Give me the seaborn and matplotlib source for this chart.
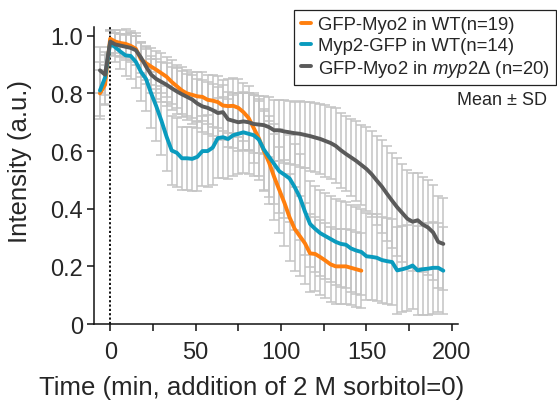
import numpy as np
import pandas as pd
import matplotlib
matplotlib.use("Agg")
import matplotlib.pyplot as plt
import seaborn as sns
from matplotlib.lines import Line2D

# ---------------- data ----------------
time_all = list(range(-6, 198, 3))          # -6 ... 195 min
time_orange = list(range(-6, 150, 3))       # -6 ... 147 min

labels = ["GFP-Myo2 in WT(n=19)", "Myp2-GFP in WT(n=14)",
          "GFP-Myo2 in $\\it{myp2}$\u0394 (n=20)"]

orange_mean = [0.80, 0.83, 0.99, 0.98, 0.975, 0.972, 0.965, 0.955, 0.918, 0.905,
               0.893, 0.882, 0.87, 0.858, 0.84, 0.825, 0.81, 0.80, 0.795, 0.79,
               0.788, 0.778, 0.775, 0.77, 0.758, 0.756, 0.757, 0.75, 0.735, 0.715,
               0.68, 0.645, 0.60, 0.56, 0.51, 0.465, 0.42, 0.37, 0.33, 0.305,
               0.28, 0.245, 0.243, 0.232, 0.22, 0.207, 0.20, 0.20, 0.20, 0.195,
               0.19, 0.185]
orange_sd = [0.08, 0.07, 0.03, 0.04, 0.045, 0.05, 0.05, 0.055, 0.06, 0.06,
             0.065, 0.065, 0.07, 0.07, 0.075, 0.075, 0.08, 0.08, 0.08, 0.085,
             0.085, 0.085, 0.09, 0.09, 0.09, 0.095, 0.095, 0.10, 0.10, 0.11,
             0.12, 0.13, 0.14, 0.145, 0.15, 0.15, 0.15, 0.15, 0.145, 0.14,
             0.14, 0.135, 0.13, 0.13, 0.13, 0.13, 0.13, 0.13, 0.13, 0.13,
             0.13, 0.13]

blue_mean = [0.81, 0.855, 0.975, 0.96, 0.945, 0.932, 0.93, 0.91, 0.875, 0.85,
             0.80, 0.755, 0.705, 0.65, 0.602, 0.594, 0.575, 0.575, 0.573, 0.58,
             0.60, 0.60, 0.612, 0.645, 0.648, 0.642, 0.655, 0.66, 0.665, 0.66,
             0.655, 0.64, 0.605, 0.58, 0.555, 0.53, 0.518, 0.505, 0.475, 0.44,
             0.39, 0.347, 0.33, 0.315, 0.305, 0.295, 0.285, 0.278, 0.275, 0.262,
             0.255, 0.25, 0.235, 0.233, 0.23, 0.222, 0.218, 0.215, 0.186, 0.19,
             0.195, 0.203, 0.186, 0.19, 0.192, 0.195, 0.195, 0.185]
blue_sd = [0.10, 0.09, 0.04, 0.05, 0.06, 0.07, 0.08, 0.09, 0.10, 0.11,
           0.12, 0.12, 0.12, 0.12, 0.12, 0.12, 0.11, 0.11, 0.11, 0.12,
           0.12, 0.125, 0.13, 0.14, 0.14, 0.14, 0.14, 0.14, 0.14, 0.14,
           0.14, 0.14, 0.14, 0.14, 0.14, 0.145, 0.15, 0.15, 0.15, 0.15,
           0.15, 0.15, 0.15, 0.15, 0.15, 0.15, 0.15, 0.15, 0.15, 0.15,
           0.15, 0.15, 0.15, 0.15, 0.15, 0.15, 0.15, 0.15, 0.15, 0.15,
           0.15, 0.15, 0.155, 0.16, 0.16, 0.16, 0.155, 0.15]

gray_mean = [0.88, 0.865, 0.98, 0.97, 0.966, 0.962, 0.958, 0.95, 0.925, 0.893,
             0.865, 0.85, 0.84, 0.83, 0.818, 0.807, 0.797, 0.788, 0.779, 0.765,
             0.755, 0.75, 0.742, 0.732, 0.735, 0.71, 0.705, 0.70, 0.703, 0.70,
             0.694, 0.692, 0.69, 0.683, 0.672, 0.672, 0.668, 0.665, 0.662, 0.66,
             0.656, 0.652, 0.647, 0.642, 0.635, 0.628, 0.618, 0.603, 0.59, 0.578,
             0.566, 0.552, 0.538, 0.52, 0.498, 0.477, 0.452, 0.428, 0.405, 0.385,
             0.365, 0.355, 0.36, 0.345, 0.335, 0.318, 0.285, 0.278]
gray_sd = [0.08, 0.07, 0.04, 0.04, 0.04, 0.045, 0.05, 0.05, 0.055, 0.06,
           0.065, 0.07, 0.07, 0.075, 0.075, 0.08, 0.08, 0.08, 0.085, 0.085,
           0.09, 0.09, 0.09, 0.09, 0.095, 0.095, 0.095, 0.10, 0.10, 0.10,
           0.10, 0.10, 0.10, 0.105, 0.105, 0.105, 0.11, 0.11, 0.11, 0.115,
           0.115, 0.12, 0.12, 0.12, 0.125, 0.125, 0.13, 0.13, 0.13, 0.135,
           0.14, 0.14, 0.145, 0.15, 0.155, 0.16, 0.165, 0.165, 0.17, 0.17,
           0.17, 0.17, 0.165, 0.165, 0.165, 0.165, 0.16, 0.16]

colors = ["#FF7F0E", "#0A9BBE", "#5A5A5A"]

# ---------------- style ----------------
sns.set_style("ticks")
plt.rcParams["font.family"] = ["Liberation Sans", "DejaVu Sans"]
plt.rcParams["mathtext.fontset"] = "custom"
plt.rcParams["mathtext.it"] = "Liberation Sans:italic"
plt.rcParams["mathtext.rm"] = "Liberation Sans"

fig = plt.figure(figsize=(5.57, 4.02), dpi=100)
ax = fig.add_axes([0.169, 0.1915, 0.653, 0.7385])

series = [
    (time_orange, orange_mean, orange_sd, labels[0], colors[0]),
    (time_all, blue_mean, blue_sd, labels[1], colors[1]),
    (time_all, gray_mean, gray_sd, labels[2], colors[2]),
]

# SD error bars (behind lines)
for t, m, s, lab, c in series:
    ax.errorbar(t, m, yerr=s, fmt="none", ecolor="#C4C4C4", elinewidth=1.1,
                capsize=3.5, capthick=1.1, zorder=1)

frames = []
for t, m, s, lab, c in series:
    frames.append(pd.DataFrame({"time": t, "intensity": m, "group": lab}))
df = pd.concat(frames, ignore_index=True)

draw_order = [labels[1], labels[0], labels[2]]
for lab in draw_order:
    idx = labels.index(lab)
    sub = df[df["group"] == lab]
    sns.lineplot(data=sub, x="time", y="intensity", color=colors[idx],
                 linewidth=2.8, ax=ax, legend=False, zorder=3 + idx)

ax.axvline(0, ymin=0, ymax=1.0, color="black", linestyle=(0, (1.2, 1.2)),
           linewidth=1.3, zorder=2)

ax.set_xlim(-9.4, 203.5)
ax.set_ylim(0, 1.03)
ax.set_xticks([0, 50, 100, 150, 200])
ax.set_xticks([25, 75, 125, 175], minor=True)
ax.set_yticks([0, 0.2, 0.4, 0.6, 0.8, 1.0])
ax.set_yticklabels(["0", "0.2", "0.4", "0.6", "0.8", "1.0"])
ax.tick_params(axis="both", which="both", direction="out", length=5,
               width=1.1, color="#111111", labelsize=17, pad=3)
ax.tick_params(axis="x", which="major", pad=7)
for sp in ["top", "right"]:
    ax.spines[sp].set_visible(False)
for sp in ["left", "bottom"]:
    ax.spines[sp].set_linewidth(1.1)
    ax.spines[sp].set_color("#111111")

ax.set_xlabel("Time (min, addition of 2 M sorbitol=0)", fontsize=18.5)
ax.set_ylabel("Intensity (a.u.)", fontsize=18.5)
ax.xaxis.set_label_coords(0.434, -0.172)
ax.yaxis.set_label_coords(-0.172, 0.55)

handles = [Line2D([0], [0], color=c, linewidth=2.8) for c in colors]
leg = fig.legend(handles, labels, loc="upper right",
                 bbox_to_anchor=(0.999, 0.973), fontsize=13.3, frameon=True,
                 fancybox=False, edgecolor="#222222", framealpha=1,
                 handlelength=0.55, handletextpad=0.4, borderpad=0.35,
                 labelspacing=0.2, borderaxespad=0)
leg.get_frame().set_linewidth(0.9)

fig.text(0.902, 0.75, "Mean \u00b1 SD", fontsize=13, ha="center", va="center")

fig.savefig("out.png", dpi=100)
